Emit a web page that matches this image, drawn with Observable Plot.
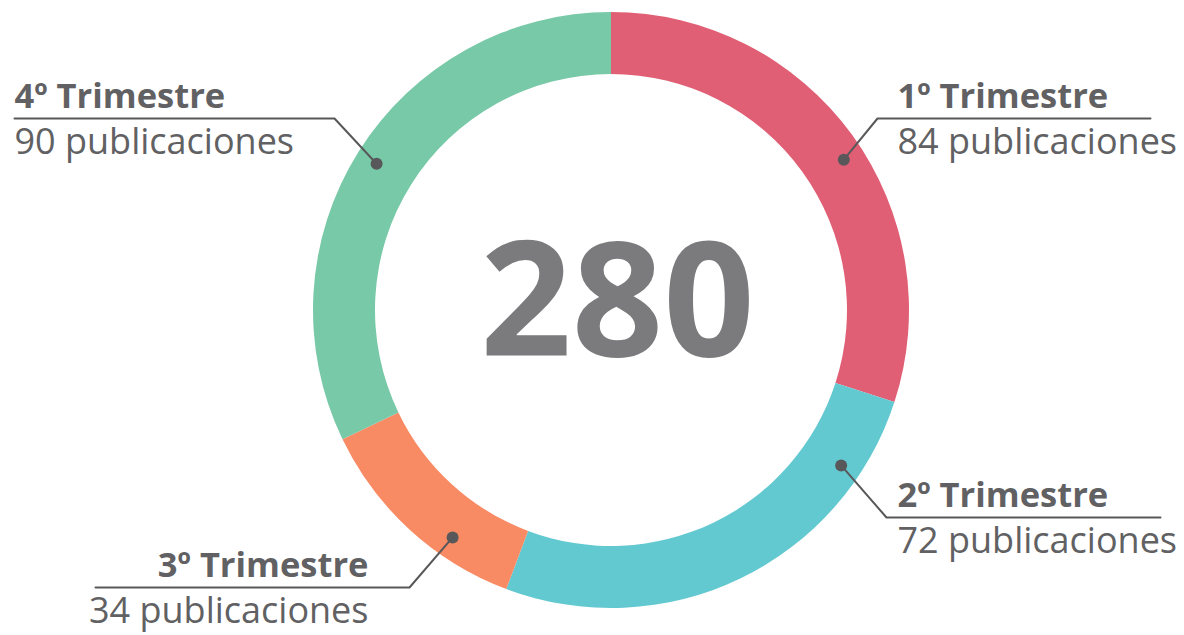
<!DOCTYPE html>
<html>
<head>
<meta charset="utf-8">
<script src="https://cdn.jsdelivr.net/npm/d3@7"></script>
<script src="https://cdn.jsdelivr.net/npm/@observablehq/plot@0.6"></script>
<style>
  html, body { margin: 0; padding: 0; background: #ffffff; }
  #chart svg { display: block; font-family: "Open Sans", sans-serif; }
</style>
</head>
<body>
<div id="chart"></div>
<script>
// ---- data ----
const quarters = ["1º Trimestre", "2º Trimestre", "3º Trimestre", "4º Trimestre"];
const counts = [84, 72, 34, 90];
const colors = ["#E05F75", "#63C9D1", "#F98B64", "#78C9A7"];
const total = 280;

// ---- label layout (chart units, origin at donut centre, y downwards) ----
const dotAngle = [57, 124, 215, 302];          // degrees clockwise from top
const elbowX = [266, 275, -202, -277];
const elbowY = [-192, 207, 277, -192];
const lineEndX = [539, 549, -516, -597];
const textX = [286, 286, -243, -597];
const textAnchor = ["start", "start", "end", "start"];

const R_OUT = 298, R_IN = 236, R_DOT = 277;

const rows = quarters.map((q, i) => ({
  q, value: counts[i], color: colors[i],
  dx: R_DOT * Math.sin(dotAngle[i] * Math.PI / 180),
  dy: -R_DOT * Math.cos(dotAngle[i] * Math.PI / 180),
  ex: elbowX[i], ey: elbowY[i], lx: lineEndX[i],
  tx: textX[i], anchor: textAnchor[i]
}));

const leader = rows.flatMap(r => [
  {q: r.q, x: r.dx, y: r.dy},
  {q: r.q, x: r.ex, y: r.ey},
  {q: r.q, x: r.lx, y: r.ey}
]);

const titles = rows.map(r => ({...r, y: r.ey - 11, label: r.q}));
const subs = rows.map(r => ({...r, y: r.ey + 35, label: `${r.value} publicaciones`}));

function donut(index, scales) {
  const {x, y} = scales;
  const cx = x(0), cy = y(0), k = x(1) - x(0);
  const pie = d3.pie().sort(null).value(d => d.value)(rows);
  const arc = d3.arc().innerRadius(R_IN * k).outerRadius(R_OUT * k);
  const g = d3.create("svg:g").attr("transform", `translate(${cx},${cy})`);
  g.selectAll("path").data(pie).join("path")
    .attr("d", arc).attr("fill", d => d.data.color);
  return g.node();
}

const labelMarks = ["start", "end"].flatMap(anchor => [
  Plot.text(titles.filter(d => d.anchor === anchor), {x: "tx", y: "y", text: "label", textAnchor: anchor,
    lineAnchor: "bottom", fontSize: 34.5, fontWeight: "bold", fill: "#616163"}),
  Plot.text(subs.filter(d => d.anchor === anchor), {x: "tx", y: "y", text: "label", textAnchor: anchor,
    lineAnchor: "bottom", fontSize: 36, fill: "#616163"})
]);

const chart = Plot.plot({
  width: 1184,
  height: 635,
  margin: 0,
  x: {domain: [-611, 573], range: [0, 1184], axis: null},
  y: {domain: [-310, 325], range: [0, 635], axis: null},
  marks: [
    donut,
    Plot.line(leader, {x: "x", y: "y", z: "q", stroke: "#58585a", strokeWidth: 2}),
    Plot.dot(rows, {x: "dx", y: "dy", r: 6, fill: "#58585a", stroke: "none"}),
    ...labelMarks,
    Plot.text([total], {x: () => 6, y: () => 45, text: d => String(d), lineAnchor: "bottom",
      fontSize: 160, fontWeight: "bold", fill: "#7b7b7d"})
  ]
});
document.getElementById("chart").appendChild(chart);
</script>
</body>
</html>
